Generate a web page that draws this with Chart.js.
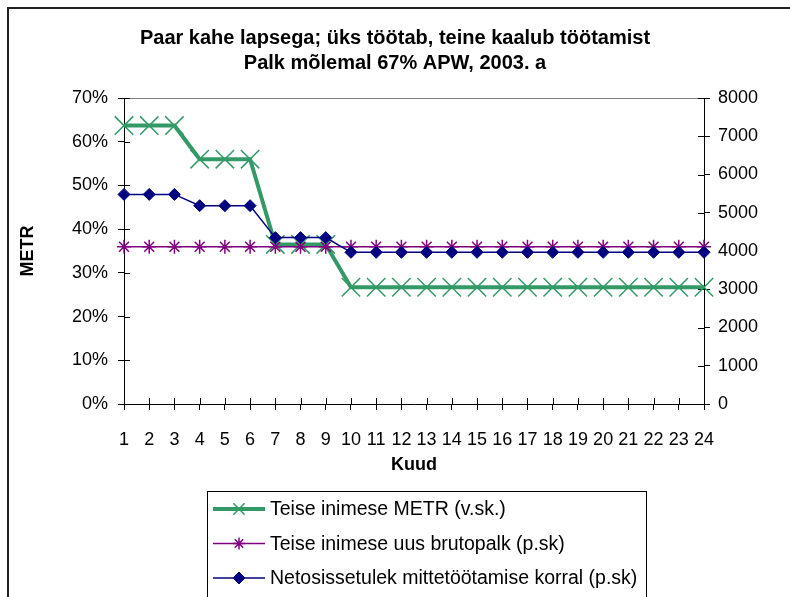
<!DOCTYPE html>
<html>
<head>
<meta charset="utf-8">
<script src="https://cdn.jsdelivr.net/npm/chart.js@4/dist/chart.umd.min.js"></script>
<style>
  html, body { margin: 0; padding: 0; background: #fff; }
  #wrap { width: 790px; height: 597px; position: relative; }
</style>
</head>
<body>
<div id="wrap"><canvas id="chart" width="790" height="597"></canvas></div>
<script>
// Kuud (x-telg)
const kuud = ['1','2','3','4','5','6','7','8','9','10','11','12','13','14','15','16','17','18','19','20','21','22','23','24'];

// Teise inimese METR, % (vasak skaala)
const metr = [63.7, 63.7, 63.7, 56.0, 56.0, 56.0, 36.5, 36.5, 36.5, 26.7, 26.7, 26.7, 26.7, 26.7, 26.7, 26.7, 26.7, 26.7, 26.7, 26.7, 26.7, 26.7, 26.7, 26.7];

// Teise inimese uus brutopalk (parem skaala)
const brutopalk = [4110, 4110, 4110, 4110, 4110, 4110, 4110, 4110, 4110, 4110, 4110, 4110, 4110, 4110, 4110, 4110, 4110, 4110, 4110, 4110, 4110, 4110, 4110, 4110];

// Netosissetulek mittetöötamise korral (parem skaala)
const netosissetulek = [5480, 5480, 5480, 5185, 5185, 5185, 4350, 4350, 4350, 3965, 3965, 3965, 3965, 3965, 3965, 3965, 3965, 3965, 3965, 3965, 3965, 3965, 3965, 3965];

const seeriad = ['Teise inimese METR (v.sk.)', 'Teise inimese uus brutopalk (p.sk)', 'Netosissetulek mittetöötamise korral (p.sk)'];

const FONT = "'Liberation Sans', Arial, sans-serif";

// välimine raam + ploti ülemine hall joon
const raam = {
  id: 'raam',
  beforeDraw(chart) {
    const ctx = chart.ctx, a = chart.chartArea;
    ctx.save();
    ctx.strokeStyle = '#222';
    ctx.lineWidth = 2;
    ctx.beginPath();
    ctx.moveTo(8, 597); ctx.lineTo(8, 8); ctx.lineTo(790, 8);
    ctx.stroke();
    ctx.strokeStyle = '#808080';
    ctx.lineWidth = 1;
    ctx.beginPath();
    ctx.moveTo(a.left, Math.round(a.top) + 0.5);
    ctx.lineTo(a.right, Math.round(a.top) + 0.5);
    ctx.stroke();
    ctx.restore();
  }
};

// tikid mõlemale poole telge (Exceli stiil)
const ristTikid = {
  id: 'ristTikid',
  beforeDatasetsDraw(chart) {
    const ctx = chart.ctx;
    const x = chart.scales.x, y = chart.scales.y, y2 = chart.scales.y2;
    ctx.save();
    ctx.strokeStyle = '#000';
    ctx.lineWidth = 1;
    ctx.beginPath();
    x.ticks.forEach((t, i) => {
      const px = Math.round(x.getPixelForTick(i)) + 0.5;
      ctx.moveTo(px, x.top); ctx.lineTo(px, x.top - 6);
    });
    y.ticks.forEach((t, i) => {
      const py = Math.round(y.getPixelForTick(i)) + 0.5;
      ctx.moveTo(y.right, py); ctx.lineTo(y.right + 6, py);
    });
    y2.ticks.forEach((t, i) => {
      const py = Math.round(y2.getPixelForTick(i)) + 0.5;
      ctx.moveTo(y2.left, py); ctx.lineTo(y2.left - 6, py);
    });
    ctx.stroke();
    ctx.restore();
  }
};

// legend kastis, joon + marker
const legendiMarker = [8, 6, 6];
const legendKast = {
  id: 'legendKast',
  afterDraw(chart) {
    const ctx = chart.ctx;
    const bx = 207, by = 491, bw = 439, bh = 120;
    ctx.save();
    ctx.strokeStyle = '#000';
    ctx.lineWidth = 1;
    ctx.strokeRect(bx + 0.5, by + 0.5, bw, bh);
    ctx.font = '19.5px ' + FONT;
    ctx.textBaseline = 'middle';
    chart.data.datasets.forEach((ds, i) => {
      const cy = 509 + i * 34.5;
      ctx.strokeStyle = ds.borderColor;
      ctx.lineWidth = ds.borderWidth;
      ctx.beginPath();
      ctx.moveTo(213, cy); ctx.lineTo(265, cy);
      ctx.stroke();
      ctx.fillStyle = ds.pointBackgroundColor;
      ctx.strokeStyle = ds.pointBorderColor;
      ctx.lineWidth = ds.pointBorderWidth;
      Chart.helpers.drawPoint(ctx, {
        pointStyle: ds.pointStyle,
        radius: legendiMarker[i],
        borderWidth: ds.pointBorderWidth,
        rotation: 0
      }, 239, cy);
      ctx.fillStyle = '#000';
      ctx.fillText(ds.label, 270, cy + 1);
    });
    ctx.restore();
  }
};

const ctx = document.getElementById('chart').getContext('2d');
new Chart(ctx, {
  type: 'line',
  data: {
    labels: kuud,
    datasets: [
      {
        label: seeriad[0],
        data: metr,
        yAxisID: 'y',
        borderColor: '#339966',
        backgroundColor: '#339966',
        borderWidth: 4,
        pointStyle: 'crossRot',
        pointRadius: 13,
        pointBorderWidth: 1.5,
        pointBorderColor: '#339966',
        pointBackgroundColor: '#339966',
        tension: 0,
        order: 3
      },
      {
        label: seeriad[1],
        data: brutopalk,
        yAxisID: 'y2',
        borderColor: '#800080',
        backgroundColor: '#800080',
        borderWidth: 1.5,
        pointStyle: 'star',
        pointRadius: 7,
        pointBorderWidth: 1.5,
        pointBorderColor: '#800080',
        pointBackgroundColor: '#800080',
        tension: 0,
        order: 2
      },
      {
        label: seeriad[2],
        data: netosissetulek,
        yAxisID: 'y2',
        borderColor: '#000080',
        backgroundColor: '#000080',
        borderWidth: 1.5,
        pointStyle: 'rectRot',
        pointRadius: 6,
        pointBorderWidth: 1,
        pointBorderColor: '#000080',
        pointBackgroundColor: '#000080',
        tension: 0,
        order: 1
      }
    ]
  },
  options: {
    responsive: false,
    animation: false,
    layout: { padding: { top: 0, left: 0, right: 0, bottom: 113 } },
    plugins: {
      legend: { display: false },
      tooltip: { enabled: false },
      title: {
        display: true,
        text: ['Paar kahe lapsega; üks töötab, teine kaalub töötamist', 'Palk mõlemal 67% APW, 2003. a'],
        color: '#000',
        font: { family: FONT, size: 20, weight: 'bold', lineHeight: 1.25 },
        padding: { top: 26, bottom: 22 }
      }
    },
    scales: {
      x: {
        type: 'category',
        offset: false,
        grid: { display: true, drawOnChartArea: false, tickLength: 6, color: '#000' },
        border: { display: true, color: '#000', width: 1 },
        ticks: { autoSkip: false, maxRotation: 0, padding: 19, color: '#000', font: { family: FONT, size: 18 } },
        title: { display: true, text: 'Kuud', color: '#000', font: { family: FONT, size: 18, weight: 'bold' }, padding: { top: 0, bottom: 8 } },
        afterFit(s) { s.height = 80; }
      },
      y: {
        position: 'left',
        min: 0, max: 70,
        grid: { display: true, drawOnChartArea: false, tickLength: 6, color: '#000' },
        border: { display: true, color: '#000', width: 1 },
        ticks: { stepSize: 10, padding: 10, color: '#000', font: { family: FONT, size: 18 }, callback: v => v + '%' },
        title: { display: true, text: 'METR', color: '#000', font: { family: FONT, size: 18, weight: 'bold' }, padding: { top: 17, bottom: 0 } },
        afterFit(s) { s.width = 124; }
      },
      y2: {
        position: 'right',
        min: 0, max: 8000,
        grid: { display: true, drawOnChartArea: false, tickLength: 6, color: '#000' },
        border: { display: true, color: '#000', width: 1 },
        ticks: { stepSize: 1000, padding: 8, color: '#000', font: { family: FONT, size: 18 }, callback: v => String(v) },
        afterFit(s) { s.width = 86; }
      }
    }
  },
  plugins: [raam, ristTikid, legendKast]
});
</script>
</body>
</html>
